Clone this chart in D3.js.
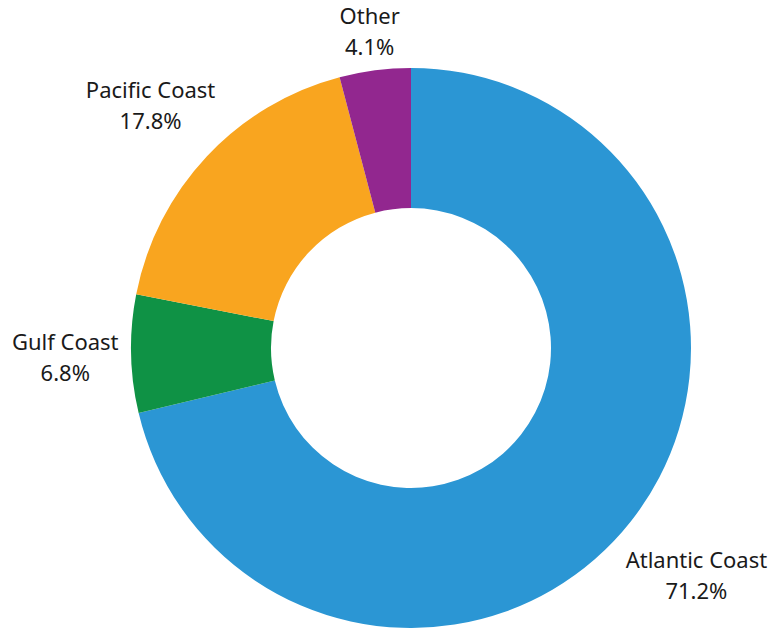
<!DOCTYPE html>
<html>
<head>
<meta charset="utf-8">
<script src="https://cdn.jsdelivr.net/npm/d3@7"></script>
<style>
  html, body { margin: 0; padding: 0; background: #fff; }
  svg { display: block; }
  text { font-family: "Noto Sans", "Open Sans", sans-serif; }
</style>
</head>
<body>
<svg id="chart" width="778" height="628"></svg>
<script>
const categories = ["Atlantic Coast", "Gulf Coast", "Pacific Coast", "Other"];
const values = [71.2, 6.8, 17.8, 4.1];
const valueLabels = ["71.2%", "6.8%", "17.8%", "4.1%"];
const colors = ["#2b96d4", "#0f9245", "#f9a51f", "#92278f"];

const W = 778, H = 628;
const cx = 411, cy = 348;
const outerR = 280, innerR = 140;
const labelGap = 12;

const svg = d3.select("#chart");
const g = svg.append("g").attr("transform", `translate(${cx},${cy})`);

const data = categories.map((c, i) => ({ name: c, value: values[i], label: valueLabels[i], color: colors[i] }));

const pie = d3.pie().value(d => d.value).sort(null);
const arc = d3.arc().innerRadius(innerR).outerRadius(outerR);
const arcs = pie(data);

g.selectAll("path.slice")
  .data(arcs)
  .join("path")
  .attr("class", "slice")
  .attr("d", arc)
  .attr("fill", d => d.data.color);

const fontSize = 22, lineH = 31;
const labels = g.selectAll("g.lbl")
  .data(arcs)
  .join("g")
  .attr("class", "lbl");

labels.each(function(d) {
  const sel = d3.select(this);
  const t1 = sel.append("text").attr("text-anchor", "middle").attr("font-size", fontSize).attr("fill", "#1a1a1a").text(d.data.name);
  const t2 = sel.append("text").attr("text-anchor", "middle").attr("font-size", fontSize).attr("fill", "#1a1a1a").attr("y", lineH).text(d.data.label);
  const w = Math.max(t1.node().getComputedTextLength(), t2.node().getComputedTextLength());
  const h = lineH + fontSize * 0.95;
  const a = (d.startAngle + d.endAngle) / 2;
  const sx = Math.sin(a), sy = -Math.cos(a);
  const dist = outerR + labelGap + Math.abs(sx) * w / 2 + Math.abs(sy) * h / 2;
  const mx = dist * sx, my = dist * sy;
  const baseline1 = my - h / 2 + fontSize * 0.93;
  sel.attr("transform", `translate(${mx},${baseline1})`);
});
</script>
</body>
</html>
